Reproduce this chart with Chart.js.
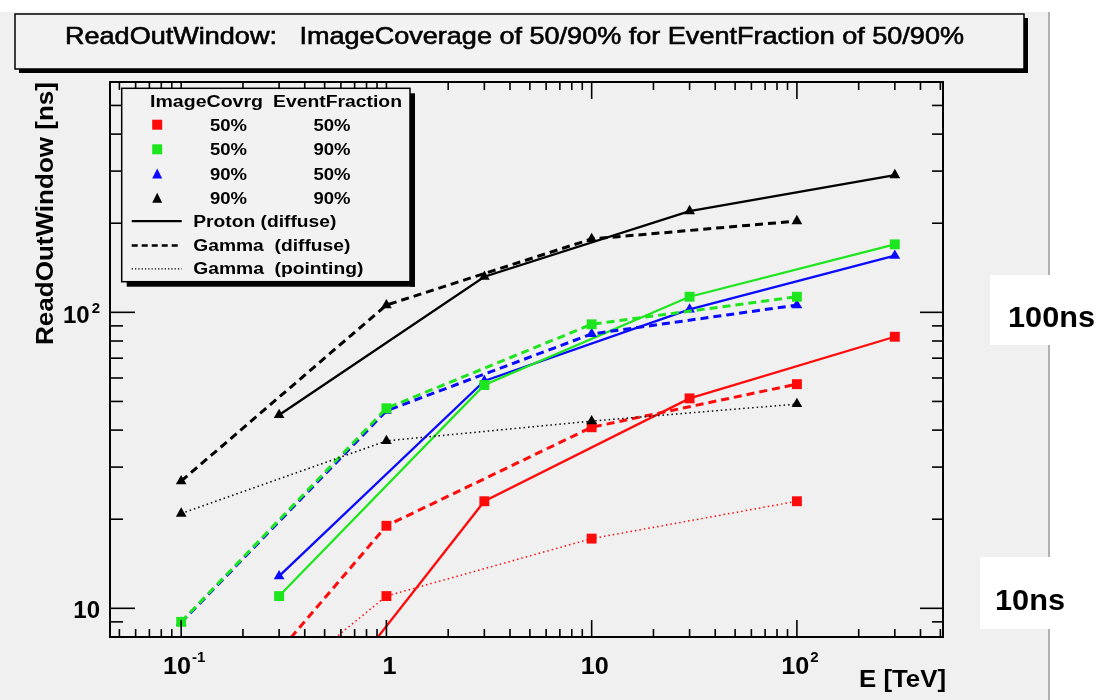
<!DOCTYPE html>
<html>
<head>
<meta charset="utf-8">
<script src="https://cdn.jsdelivr.net/npm/chart.js@4/dist/chart.umd.min.js"></script>
<style>
  html, body { margin: 0; padding: 0; background: #fff; overflow: hidden; }
  canvas { display: block; }
</style>
</head>
<body>
<canvas id="c" width="1097" height="700"></canvas>
<script>
// Energy grids in TeV
const protonEnergy = [0.3, 3, 30, 300];
const gammaEnergy  = [0.1, 1, 10, 100];

// ReadOutWindow [ns]; suffix = ImageCoverage_EventFraction
const protonDiffuse_50_50 = [3.0, 23.0, 51.2, 82.7];
const protonDiffuse_50_90 = [11.0, 56.8, 112.9, 169.7];
const protonDiffuse_90_50 = [12.85, 58.6, 102.3, 155.4];
const protonDiffuse_90_90 = [45.0, 131.9, 219.9, 290.9];

const gammaDiffuse_50_50 = [2.93, 19.0, 40.9, 57.2];
const gammaDiffuse_50_90 = [9.0, 47.4, 91.1, 112.9];
const gammaDiffuse_90_50 = [8.95, 46.5, 84.5, 105.8];
const gammaDiffuse_90_90 = [26.9, 105.8, 176.9, 203.4];

const gammaPointing_50_50 = [2.99, 11.0, 17.2, 23.0];
const gammaPointing_90_90 = [20.9, 36.8, 42.9, 49.0];

// Axis labels: [mantissa, exponent]
const xTickValues = [0.1, 1, 10, 100];
const xTickLabels = [['10', '-1'], ['1', ''], ['10', ''], ['10', '2']];
const yTickValues = [10, 100];
const yTickLabels = [['10', ''], ['10', '2']];

// Legend table
const legendCoverage = ['50%', '50%', '90%', '90%'];
const legendFraction = ['50%', '90%', '50%', '90%'];
const legendSources  = ['Proton (diffuse)', 'Gamma  (diffuse)', 'Gamma  (pointing)'];

const RED = '#ff0a0a', GREEN = '#1ee61e', BLUE = '#0a0aff', BLACK = '#000000';
const FONT = 'Arial, "Liberation Sans", Helvetica, sans-serif';

const STYLE = {
  solid:  { dash: [],     width: 2.3 },
  dashed: { dash: [8, 5], width: 3 },
  dotted: { dash: [1.5, 3], width: 1.5 }
};
const MARK = {
  rect:     { style: 'rect',     radius: 7 },
  triangle: { style: 'triangle', radius: 6.2 }
};

function series(label, energies, values, color, line, mark) {
  return {
    label,
    data: energies.map((e, i) => ({ x: e, y: values[i] })),
    borderColor: color,
    backgroundColor: color,
    borderWidth: STYLE[line].width,
    borderDash: STYLE[line].dash,
    pointStyle: MARK[mark].style,
    pointRadius: MARK[mark].radius,
    pointBorderWidth: 0,
    pointBackgroundColor: color,
    tension: 0,
    fill: false
  };
}

const datasets = [
  series('Gamma pointing 50/50', gammaEnergy, gammaPointing_50_50, RED, 'dotted', 'rect'),
  series('Gamma pointing 90/90', gammaEnergy, gammaPointing_90_90, BLACK, 'dotted', 'triangle'),
  series('Gamma diffuse 50/50', gammaEnergy, gammaDiffuse_50_50, RED, 'dashed', 'rect'),
  series('Gamma diffuse 50/90', gammaEnergy, gammaDiffuse_50_90, GREEN, 'dashed', 'rect'),
  series('Gamma diffuse 90/50', gammaEnergy, gammaDiffuse_90_50, BLUE, 'dashed', 'triangle'),
  series('Gamma diffuse 90/90', gammaEnergy, gammaDiffuse_90_90, BLACK, 'dashed', 'triangle'),
  series('Proton diffuse 50/50', protonEnergy, protonDiffuse_50_50, RED, 'solid', 'rect'),
  series('Proton diffuse 50/90', protonEnergy, protonDiffuse_50_90, GREEN, 'solid', 'rect'),
  series('Proton diffuse 90/50', protonEnergy, protonDiffuse_90_50, BLUE, 'solid', 'triangle'),
  series('Proton diffuse 90/90', protonEnergy, protonDiffuse_90_90, BLACK, 'solid', 'triangle')
];

// Text drawn with a horizontal stretch so it spans a given width
function text(ctx, s, x, y, font, width, align, stroke) {
  ctx.save();
  ctx.font = font;
  ctx.textAlign = 'left';
  ctx.textBaseline = 'alphabetic';
  const w = ctx.measureText(s).width;
  const sx = width ? width / w : 1;
  const x0 = align === 'center' ? x - w * sx / 2 : align === 'right' ? x - w * sx : x;
  ctx.translate(x0, y);
  ctx.scale(sx, 1);
  ctx.fillText(s, 0, 0);
  if (stroke) {
    ctx.lineWidth = stroke;
    ctx.strokeStyle = ctx.fillStyle;
    ctx.strokeText(s, 0, 0);
  }
  ctx.restore();
  return w * sx;
}

function logTicks(min, max) {
  const out = [];
  for (let d = -3; d <= 4; d++) {
    for (let m = 1; m <= 9; m++) {
      const v = m * Math.pow(10, d);
      if (v >= min * 1.0001 && v <= max * 0.9999) out.push({ v, major: m === 1 });
    }
  }
  return out;
}

function seg(ctx, x1, y1, x2, y2) {
  ctx.beginPath(); ctx.moveTo(x1, y1); ctx.lineTo(x2, y2); ctx.stroke();
}

function marker(ctx, kind, x, y, color, size) {
  ctx.save();
  ctx.fillStyle = color;
  if (kind === 'rect') {
    ctx.fillRect(x - size / 2, y - size / 2, size, size);
  } else {
    const h = size * 0.9;
    ctx.beginPath();
    ctx.moveTo(x, y - h / 2 - 1);
    ctx.lineTo(x + size / 2, y + h / 2);
    ctx.lineTo(x - size / 2, y + h / 2);
    ctx.closePath();
    ctx.fill();
  }
  ctx.restore();
}

function shadowBox(ctx, x, y, w, h, sh, fill) {
  ctx.save();
  ctx.fillStyle = '#000';
  ctx.fillRect(x + sh, y + h, w, sh);
  ctx.fillRect(x + w, y + sh, sh, h);
  ctx.fillStyle = fill;
  ctx.fillRect(x, y, w, h);
  ctx.strokeStyle = '#000';
  ctx.lineWidth = 1.5;
  ctx.strokeRect(x, y, w, h);
  ctx.restore();
}

const canvasDecor = {
  id: 'canvasDecor',
  beforeDraw(chart) {
    const ctx = chart.ctx;
    ctx.save();
    ctx.fillStyle = '#ffffff';
    ctx.fillRect(0, 0, chart.width, chart.height);
    ctx.fillStyle = '#f0f0f0';
    ctx.fillRect(0, 12, 1049, chart.height - 12);
    ctx.fillStyle = '#b0b0b0';
    ctx.fillRect(1048, 12, 2, chart.height - 12);
    ctx.restore();
  },
  afterDraw(chart) {
    const ctx = chart.ctx;
    const { left, right, top, bottom } = chart.chartArea;
    const xs = chart.scales.x, ys = chart.scales.y;
    ctx.save();
    ctx.strokeStyle = '#000';
    ctx.fillStyle = '#000';

    // tick marks on all four sides
    ctx.lineWidth = 1.6;
    for (const t of logTicks(xs.min, xs.max)) {
      const px = xs.getPixelForValue(t.v);
      const len = t.major ? 17 : 8;
      seg(ctx, px, bottom, px, bottom - len);
      seg(ctx, px, top, px, top + len);
    }
    for (const t of logTicks(ys.min, ys.max)) {
      const py = ys.getPixelForValue(t.v);
      seg(ctx, left, py, left + (t.major ? 25 : 13), py);
      seg(ctx, right, py, right - (t.major ? 23 : 11), py);
    }
    ctx.lineWidth = 2;
    ctx.strokeRect(left, top, right - left, bottom - top);

    // x tick labels
    const base = 'bold 24px ' + FONT, sup = 'bold 15px ' + FONT;
    xTickValues.forEach((v, i) => {
      const px = xs.getPixelForValue(v);
      const [m, e] = xTickLabels[i];
      ctx.font = base;
      const wm = ctx.measureText(m).width * 1.05;
      ctx.font = sup;
      const we = e ? ctx.measureText(e).width + 1 : 0;
      const x0 = px + 3 - (wm + we) / 2;
      text(ctx, m, x0, 674, base, wm, 'left');
      if (e) text(ctx, e, x0 + wm + 1, 662, sup, null, 'left');
    });
    // y tick labels
    yTickValues.forEach((v, i) => {
      const py = ys.getPixelForValue(v);
      const [m, e] = yTickLabels[i];
      if (e) {
        ctx.font = sup;
        const we = ctx.measureText(e).width;
        text(ctx, e, 100 - we, py + 1, sup, null, 'left');
        text(ctx, m, 100 - we - 2, py + 11, base, null, 'right');
      } else {
        text(ctx, m, 100, py + 10, base, null, 'right');
      }
    });

    // axis titles
    text(ctx, 'E [TeV]', 946, 687, 'bold 24px ' + FONT, 87, 'right');
    ctx.save();
    ctx.translate(53, 213.5);
    ctx.rotate(-Math.PI / 2);
    text(ctx, 'ReadOutWindow [ns]', 0, 0, 'bold 24px ' + FONT, 263, 'center');
    ctx.restore();

    // legend table
    shadowBox(ctx, 121.7, 88.3, 288.3, 193.4, 5, '#f2f2f2');
    const lf = 'bold 16px ' + FONT;
    text(ctx, 'ImageCovrg', 150, 106.7, lf, 113, 'left');
    text(ctx, 'EventFraction', 273, 106.7, lf, 129, 'left');
    const rowBase = [130.7, 155.3, 180, 204.3];
    const rowMark = [
      ['rect', RED], ['rect', GREEN], ['triangle', BLUE], ['triangle', BLACK]
    ];
    rowBase.forEach((b, i) => {
      marker(ctx, rowMark[i][0], 157.2, b - 6, rowMark[i][1], 10);
      text(ctx, legendCoverage[i], 228.5, b, lf, 37, 'center');
      text(ctx, legendFraction[i], 332, b, lf, 37, 'center');
    });
    const srcBase = [226.7, 251, 274.3];
    const srcWidth = [143, 157, 170];
    const srcLine = [STYLE.solid, { dash: [6, 4], width: 2.5 }, { dash: [1.3, 2], width: 1.3 }];
    srcBase.forEach((b, i) => {
      ctx.save();
      ctx.lineWidth = srcLine[i].width;
      ctx.setLineDash(srcLine[i].dash);
      seg(ctx, 131.7, b - 5.5, 181.7, b - 5.5);
      ctx.restore();
      text(ctx, legendSources[i], 193.3, b, lf, srcWidth[i], 'left');
    });

    // title box
    shadowBox(ctx, 15, 14, 1009, 55, 4, '#f2f2f2');
    text(ctx, 'ReadOutWindow:   ImageCoverage of 50/90% for EventFraction of 50/90%',
         514.5, 44, '24px ' + FONT, 899, 'center', 0.6);

    // reference levels on the right
    ctx.fillStyle = '#ffffff';
    ctx.fillRect(990, 275, 107, 70);
    ctx.fillRect(980, 557, 117, 72);
    ctx.fillStyle = '#000';
    text(ctx, '100ns', 1008, 327, 'bold 30px ' + FONT, 87, 'left');
    text(ctx, '10ns', 995, 610, 'bold 30px ' + FONT, 70, 'left');
    ctx.restore();
  }
};

new Chart(document.getElementById('c'), {
  type: 'line',
  data: { datasets },
  options: {
    responsive: false,
    devicePixelRatio: 1,
    animation: false,
    layout: { padding: { left: 110, top: 82, right: 154, bottom: 63 } },
    plugins: { legend: { display: false }, tooltip: { enabled: false }, title: { display: false } },
    scales: {
      x: { type: 'logarithmic', min: 0.045, max: 515, display: false },
      y: { type: 'logarithmic', min: 8, max: 600, display: false }
    }
  },
  plugins: [canvasDecor]
});
</script>
</body>
</html>
